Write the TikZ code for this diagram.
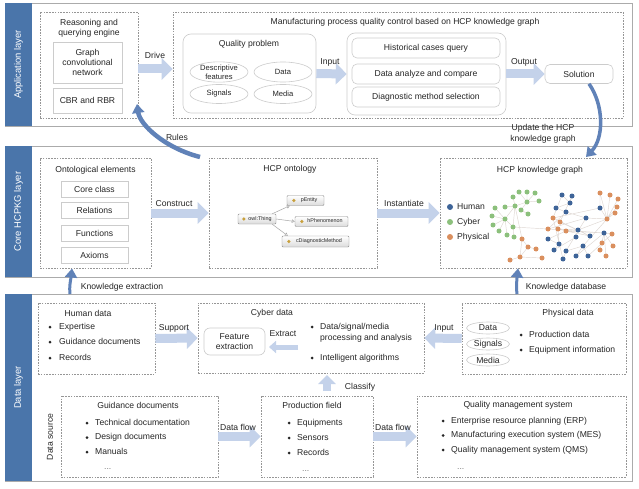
\documentclass[tikz,border=0pt]{standalone}
\usepackage{fontspec}
\setmainfont{Liberation Sans}
\usetikzlibrary{arrows.meta,shapes.geometric,shadows}
\definecolor{bandc}{RGB}{74,117,170}
\definecolor{lblue}{RGB}{196,210,234}
\definecolor{dblue}{RGB}{96,130,184}
\definecolor{txt}{RGB}{38,38,38}
\definecolor{dgray}{RGB}{150,150,150}
\definecolor{cHum}{RGB}{62,100,152}
\definecolor{cCyb}{RGB}{140,192,124}
\definecolor{cPhy}{RGB}{218,143,94}
\definecolor{owlc}{RGB}{200,160,60}
\definecolor{edgec}{RGB}{222,215,210}
\newcommand\fA{\fontsize{8.6}{10.3}\selectfont}
\newcommand\fB{\fontsize{8.6}{10}\selectfont}
\newcommand\fS{\fontsize{7.6}{8.8}\selectfont}
\begin{document}
\begin{tikzpicture}[x=1pt,y=-1pt,
  every node/.style={text=txt},
  layer/.style={draw=black!33, line width=0.8pt, fill=white, minimum width=627pt, inner sep=0,
    drop shadow={shadow xshift=0.5pt,shadow yshift=-1pt,fill=black!22}},
  bandbox/.style={fill=bandc, text=white, rotate=90, minimum height=27pt, inner sep=0, font=\fontsize{9.4}{11}\selectfont},
  dbox/.style={draw=dgray, line width=0.55pt, dash pattern=on 1.6pt off 1.2pt, inner sep=0},
  ibox/.style={draw=black!20, line width=0.6pt, fill=white, inner sep=0, font=\fA, align=center},
  rbox/.style={ibox, rounded corners=5pt},
  ell/.style={ellipse, draw=black!20, line width=0.6pt, inner sep=0, align=center},
  lab/.style={font=\fA, inner sep=0},
  item/.style={font=\fA, inner sep=0, anchor=west, text height=6.2pt, text depth=1.8pt},
  bigarrow/.style={line width=9pt, draw=lblue, -{Triangle[length=11pt,width=21pt]}},
  smallarrow/.style={line width=5pt, draw=lblue, -{Triangle[length=7pt,width=12pt]}},
  darrow/.style={draw=dblue, -{Triangle[length=9pt,width=12pt]}},
  ontob/.style={draw=black!45, line width=0.4pt, top color=white, bottom color=black!14,
    rounded corners=1pt, font=\fontsize{5.4}{6}\selectfont, inner sep=0, minimum height=10pt,
    text height=3.9pt, text depth=1pt},
  oedge/.style={draw=black!35, line width=0.5pt, -{Triangle[open,length=3pt,width=3.5pt]}},
  gedge/.style={draw=edgec, line width=0.45pt}
]
\useasboundingbox (0,0) rectangle (639,489);
\fill[white] (0,0) rectangle (639,489);

% ================= Application layer =================
\node[layer, minimum height=123pt] (L1) at (318.5,64.5) {};
\node[bandbox, minimum width=123pt] (B1) at (18.5,64.5) {Application layer};

\node[dbox, minimum width=98pt, minimum height=106pt] (reason) at (89,65) {};
\node[lab, align=center, font=\fB] (reasonT) at (89,28) {Reasoning and\\querying engine};
\node[ibox, minimum width=69pt, minimum height=41pt, font=\fB] (gcn) at (87.5,62.5) {Graph\\convolutional\\network};
\node[ibox, minimum width=69pt, minimum height=25pt] (cbr) at (87.5,100.5) {CBR and RBR};

\node[dbox, minimum width=450pt, minimum height=106pt] (mfg) at (398,65) {};
\node[lab] (mfgT) at (405,22) {Manufacturing process quality control based on HCP knowledge graph};

\node[rbox, rounded corners=8pt, minimum width=133pt, minimum height=79pt] (qp) at (249.5,73.5) {};
\node[lab] (qpT) at (249,44) {Quality problem};
\node[ell, minimum width=58pt, minimum height=20pt, font=\fS] (e1) at (219,72) {Descriptive\\features};
\node[ell, minimum width=58pt, minimum height=20pt, font=\fS] (e2) at (283,72) {Data};
\node[ell, minimum width=58pt, minimum height=19pt, font=\fS] (e3) at (219,94) {Signals};
\node[ell, minimum width=58pt, minimum height=19pt, font=\fS] (e4) at (283,94) {Media};

\node[rbox, rounded corners=8pt, minimum width=159pt, minimum height=82pt] (grp) at (426.5,74) {};
\node[rbox, minimum width=148pt, minimum height=20pt] (hist) at (426,48) {Historical cases query};
\node[rbox, minimum width=148pt, minimum height=20pt] (dac) at (426,74) {Data analyze and compare};
\node[rbox, minimum width=148pt, minimum height=20pt] (dms) at (426,97) {Diagnostic method selection};
\node[rbox, minimum width=68pt, minimum height=19pt] (sol) at (579,74) {Solution};

\draw[bigarrow] ([yshift=-4pt]reason.east) -- ([yshift=-4pt]mfg.west);
\node[lab] (driveL) at (155,55) {Drive};
\draw[bigarrow] (qp.east) -- (grp.west);
\node[lab] (inL) at (330,62) {Input};
\draw[bigarrow] (grp.east) -- (sol.west);
\node[lab] (outL) at (524,62) {Output};

% ================= Core layer =================
\node[layer, minimum height=131pt] (L2) at (318.5,211.5) {};
\node[bandbox, minimum width=131pt] (B2) at (18.5,211.5) {Core HCPKG layer};

\node[dbox, minimum width=111pt, minimum height=110pt] (onto) at (95.5,213) {};
\node[lab] (ontoT) at (95.5,170) {Ontological elements};
\node[ibox, minimum width=67pt, minimum height=16pt] (cc) at (94.5,189) {Core class};
\node[ibox, minimum width=67pt, minimum height=16pt] (rel) at (94.5,210.5) {Relations};
\node[ibox, minimum width=67pt, minimum height=16pt] (fun) at (94.5,233) {Functions};
\node[ibox, minimum width=67pt, minimum height=16pt] (ax) at (94.5,255) {Axioms};

\node[dbox, minimum width=168pt, minimum height=110pt] (hcpo) at (293,213) {};
\node[lab] (hcpoT) at (290,169) {HCP ontology};
\node[ontob, minimum width=38pt] (owl) at (257,219) {\hspace{6pt}owl:Thing};
\node[ontob, minimum width=37pt] (pent) at (305.5,200.5) {\hspace{7pt}pEntity};
\node[ontob, minimum width=53pt] (hphen) at (321.5,221.5) {\hspace{7pt}hPhenomenon};
\node[ontob, minimum width=67pt, minimum height=11pt] (cdiag) at (315.5,241.5) {\hspace{7pt}cDiagnosticMethod};
\fill[owlc] ([xshift=6pt]owl.west) circle (1.8pt);
\fill[owlc] ([xshift=7pt]pent.west) circle (1.8pt);
\fill[owlc] ([xshift=7pt]hphen.west) circle (1.8pt);
\fill[owlc] ([xshift=7pt]cdiag.west) circle (1.8pt);
\draw[oedge] ([xshift=-4pt]owl.north east) -- ([xshift=3pt]pent.south west);
\draw[oedge] (owl.east) -- (hphen.west);
\draw[oedge] ([xshift=-4pt]owl.south east) -- ([xshift=6pt]cdiag.north west);

\node[dbox, minimum width=187pt, minimum height=110pt] (kg) at (533.5,213) {};
\node[lab] (kgT) at (540,170) {HCP knowledge graph};

\draw[bigarrow] (onto.east) -- (hcpo.west);
\node[lab] (consL) at (174,204) {Construct};
\draw[bigarrow] (hcpo.east) -- (kg.west);
\node[lab] (instL) at (404,203) {Instantiate};

% legend
\fill[cHum] (450,207) circle (3pt);
\node[item] (lh) at (457,207) {Human};
\fill[cCyb] (450,222) circle (3pt);
\node[item] (lc) at (457,222) {Cyber};
\fill[cPhy] (450,237) circle (3pt);
\node[item] (lp) at (457,237) {Physical};

% network edges
\draw[gedge]
 (505,219)--(495,208) (505,219)--(492,216) (505,219)--(493,225) (505,219)--(499,231) (505,219)--(507,235)
 (505,219)--(515,206) (515,206)--(505,207) (515,206)--(513,197) (527,202)--(519,192) (527,202)--(527,192)
 (527,202)--(535,193) (527,202)--(539,201) (527,202)--(521,210) (521,210)--(528,214) (513,227)--(514,237)
 (513,227)--(505,219) (515,206)--(527,202) (515,206)--(513,227) (515,206)--(522,239) (513,227)--(548,229)
 (520,257)--(510,260) (520,257)--(528,247) (520,257)--(542,258) (520,257)--(522,239) (528,247)--(536,249)
 (522,239)--(528,247)
 (548,229)--(566,212) (548,229)--(586,218) (553,218)--(600,208) (553,218)--(562,195) (560,222)--(572,196)
 (558,229)--(578,230) (566,231)--(590,236) (548,239)--(566,231) (559,244)--(558,229) (554,250)--(576,237)
 (566,251)--(586,218) (583,246)--(607,219) (576,256)--(604,233) (588,256)--(612,234) (563,259)--(553,218)
 (578,230)--(607,219) (590,236)--(553,218) (600,208)--(607,219) (586,218)--(607,219) (607,219)--(600,193)
 (607,219)--(610,195) (607,219)--(618,199) (607,219)--(617,207) (607,219)--(615,213) (600,208)--(600,193)
 (604,233)--(613,246) (604,233)--(602,243) (604,233)--(600,250) (604,233)--(606,256) (604,233)--(612,234)
 (556,208)--(570,203) (570,203)--(562,195) (570,203)--(572,196) (566,212)--(556,208) (586,218)--(566,212)
 (548,239)--(559,244) (554,250)--(559,244) (566,251)--(583,246) (583,246)--(576,256) (588,256)--(583,246)
 (563,259)--(566,251) (560,222)--(590,236) (566,231)--(604,233) (548,229)--(604,233);
% network dots
\foreach \p in {(519,192),(527,192),(535,193),(513,197),(527,202),(539,201),(495,208),(505,207),(515,206),
  (521,210),(528,214),(492,216),(505,219),(513,227),(493,225),(499,231),(507,235),(514,237)}
  \fill[cCyb] \p circle (2.5pt);
\foreach \p in {(522,239),(528,247),(536,249),(520,257),(510,260),(542,258),(553,218),(560,222),(548,229),
  (558,229),(566,231),(600,193),(610,195),(618,199),(617,207),(615,213),(607,219),(612,234),(613,246),
  (602,243),(600,250),(606,256)}
  \fill[cPhy] \p circle (2.5pt);
\foreach \p in {(562,195),(572,196),(570,203),(556,208),(566,212),(586,218),(600,208),(578,230),(548,239),
  (559,244),(576,237),(590,236),(604,233),(554,250),(566,251),(583,246),(576,256),(588,256),(563,259)}
  \fill[cHum] \p circle (2.5pt);

% curved arrows between layers
\coordinate (rulesS) at (200,157);
\coordinate (rulesE) at (137,104);
\draw[darrow, line width=4.5pt] (rulesS) .. controls (165,148) and (140,125) .. (rulesE);
\node[lab] (rulesL) at (177,137) {Rules};

\coordinate (updE) at (586,157);
\draw[darrow, line width=3.5pt] ([xshift=10pt]sol.south) .. controls (604,105) and (604,138) .. (updE);
\node[lab, align=center, font=\fontsize{8.6}{11.5}\selectfont] (updL) at (543,134) {Update the HCP\\knowledge graph};

% ================= Data layer =================
\node[layer, minimum height=187pt] (L3) at (318.5,387.5) {};
\node[bandbox, minimum width=187pt] (B3) at (18.5,387.5) {Data layer};

\coordinate (kexS) at (70,294);
\coordinate (kexE) at (72,268.5);
\draw[darrow, line width=3pt] (kexS) .. controls (69,286) and (71,278) .. (kexE);
\node[lab] (kexL) at (122,287) {Knowledge extraction};
\coordinate (kdbS) at (517,294);
\coordinate (kdbE) at (518,268.5);
\draw[darrow, line width=3pt] (kdbS) .. controls (516,286) and (517,278) .. (kdbE);
\node[lab] (kdbL) at (566,287) {Knowledge database};

% human data
\node[dbox, minimum width=117pt, minimum height=71pt] (human) at (96.5,338.5) {};
\node[lab] (humanT) at (88,313) {Human data};
\foreach \y/\t [count=\i] in {327/Expertise, 342/Guidance documents, 358/Records} {
  \fill[txt] (50,\y) circle (1.5pt);
  \node[item] (hum\i) at (59,\y) {\t};
}

% cyber data
\node[dbox, minimum width=226pt, minimum height=70pt] (cyber) at (311,338) {};
\node[lab] (cyberT) at (272,313) {Cyber data};
\node[rbox, rounded corners=6pt, minimum width=61pt, minimum height=27pt, font=\fB] (fext) at (234.5,341.5) {Feature\\extraction};
\fill[txt] (312,327) circle (1.5pt);
\node[item] (cy1) at (320,327) {Data/signal/media};
\node[item] (cy2) at (320,338.5) {processing and analysis};
\fill[txt] (312,358) circle (1.5pt);
\node[item] (cy3) at (320,358) {Intelligent algorithms};
\coordinate (extS) at (298,347);
\coordinate (extE) at (269,347);
\draw[smallarrow] (extS) -- (extE);
\node[lab] (extL) at (283,334) {Extract};

% physical data
\node[dbox, minimum width=164pt, minimum height=71pt] (phys) at (544,338.5) {};
\node[lab] (physT) at (568,313) {Physical data};
\node[ell, minimum width=43pt, minimum height=12pt, font=\fA] (pe1) at (488,328) {Data};
\node[ell, minimum width=43pt, minimum height=12pt, font=\fA] (pe2) at (488,344) {Signals};
\node[ell, minimum width=43pt, minimum height=12pt, font=\fA] (pe3) at (488,360) {Media};
\fill[txt] (521,335) circle (1.5pt);
\node[item] (ph1) at (529,335) {Production data};
\fill[txt] (521,350) circle (1.5pt);
\node[item] (ph2) at (529,350) {Equipment information};

\draw[bigarrow] (human.east) -- (cyber.west);
\node[lab] (supL) at (174,328) {Support};
\draw[bigarrow] (phys.west) -- (cyber.east);
\node[lab] (in2L) at (444,328) {Input};

% data source
\node[lab, rotate=90] (ds) at (50,437) {Data source};

\node[dbox, minimum width=157pt, minimum height=81pt] (guide) at (139.5,436.5) {};
\node[lab] (guideT) at (138,405) {Guidance documents};
\foreach \y/\t [count=\i] in {423/Technical documentation, 437.5/Design documents, 452/Manuals} {
  \fill[txt] (87,\y) circle (1.5pt);
  \node[item] (gd\i) at (95,\y) {\t};
}
\node[item, text=black!55] (gd4) at (104,467) {...};

\node[dbox, minimum width=112pt, minimum height=81pt] (prod) at (317,436.5) {};
\node[lab] (prodT) at (312,405) {Production field};
\foreach \y/\t [count=\i] in {423/Equipments, 438/Sensors, 453/Records} {
  \fill[txt] (289,\y) circle (1.5pt);
  \node[item] (pf\i) at (297,\y) {\t};
}
\node[item, text=black!55] (pf4) at (302,469) {...};

\node[dbox, minimum width=209pt, minimum height=81pt] (qms) at (521.5,436.5) {};
\node[lab] (qmsT) at (518,405) {Quality management system};
\foreach \y/\t [count=\i] in {421/Enterprise resource planning (ERP), 435.5/Manufacturing execution system (MES), 450/Quality management system (QMS)} {
  \fill[txt] (443,\y) circle (1.5pt);
  \node[item] (qm\i) at (451,\y) {\t};
}
\node[item, text=black!55] (qm4) at (457,467) {...};

\draw[bigarrow] (guide.east) -- (prod.west);
\node[lab] (df1L) at (238,427) {Data flow};
\draw[bigarrow] (prod.east) -- (qms.west);
\node[lab] (df2L) at (393,427) {Data flow};

\coordinate (clsS) at (327,391);
\coordinate (clsE) at (327,375);
\draw[line width=8pt, draw=lblue, -{Triangle[length=9pt,width=17pt]}] (clsS) -- (clsE);
\node[lab] (clsL) at (360,387) {Classify};
\end{tikzpicture}
\end{document}
